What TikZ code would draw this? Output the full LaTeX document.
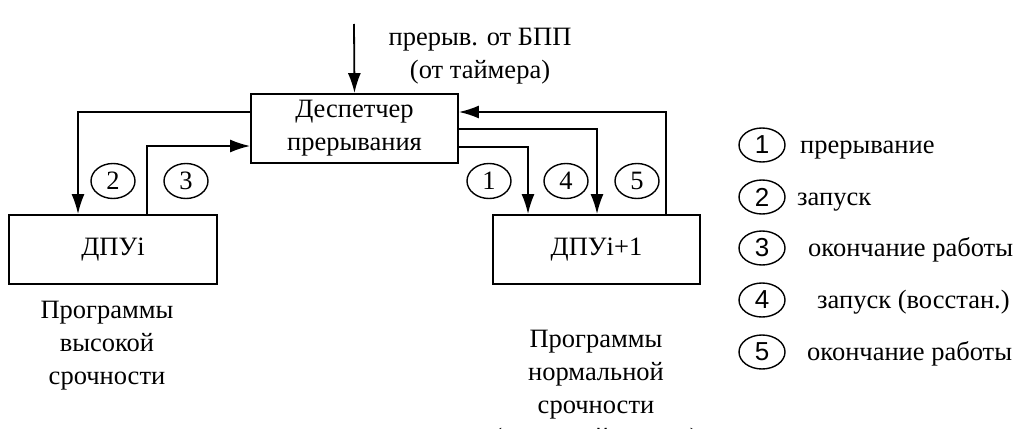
\documentclass[tikz,border=0pt]{standalone}
\usepackage{fontspec}
\setmainfont{Liberation Serif}
\newfontfamily\legsans{Liberation Sans}
\usetikzlibrary{arrows.meta,shapes.geometric}
\begin{document}
\begin{tikzpicture}[x=1pt,y=-1pt,
  every node/.style={font=\fontsize{26.5}{33}\selectfont, inner sep=0pt},
  blockbox/.style={draw, line width=1.8pt, minimum width=207pt, minimum height=69pt, align=center},
  numcirc/.style={draw, ellipse, line width=1.4pt, minimum width=44pt, minimum height=35pt},
  legcirc/.style={draw, ellipse, line width=1.4pt, minimum width=46pt, minimum height=34pt, font=\fontsize{26}{30}\legsans},
  arr/.style={line width=1.8pt, -{Latex[length=20pt,width=13pt]}},
  lbl/.style={align=center},
  legtxt/.style={anchor=base west}
]
\useasboundingbox (0,0) rectangle (1024,428);
% boxes
\node[blockbox] (d) at (354.5,128.5) {Деспетчер\\прерывания};
\node[blockbox, minimum width=208pt] (a) at (113,249.5) {ДПУi};
\node[blockbox] (b) at (596.5,249.5) {ДПУi+1};
% top input
\coordinate (tin) at (354,24);
\draw[arr] (tin) -- (d.north);
\node[lbl] (toptxt) at (480,56) {прерыв. от БПП\\(от таймера)};
% connectors
\draw[arr] ([yshift=16.5pt]d.west) -| ([xshift=-35pt]a.north);
\draw[arr] ([xshift=34pt]a.north) |- ([yshift=-17.5pt]d.west);
\draw[arr] ([yshift=-18.5pt]d.east) -| ([xshift=-68.5pt]b.north);
\draw[arr] ([yshift=-0.5pt]d.east) -| ([xshift=0.5pt]b.north);
\draw[arr] ([xshift=69.5pt]b.north) |- ([yshift=16.5pt]d.east);
% numbered circles
\node[numcirc] (c2) at (113,181) {2};
\node[numcirc] (c3) at (186,181) {3};
\node[numcirc] (c1) at (489,181) {1};
\node[numcirc] (c4) at (566,181) {4};
\node[numcirc] (c5) at (637,181) {5};
% captions
\node[lbl] (capl) at (107,346) {Программы\\высокой\\срочности};
\node[lbl] (capr) at (596,391) {Программы\\нормальной\\срочности\\(основной задачи)};
% legend
\node[legcirc] (l1) at (762,145) {1};
\node[legcirc] (l2) at (762,197) {2};
\node[legcirc] (l3) at (762,248) {3};
\node[legcirc] (l4) at (762,300) {4};
\node[legcirc] (l5) at (762,352) {5};
\node[legtxt] (t1) at (800,153) {прерывание};
\node[legtxt] (t2) at (797,205) {запуск};
\node[legtxt] (t3) at (808,256) {окончание работы};
\node[legtxt] (t4) at (817,308) {запуск (восстан.)};
\node[legtxt] (t5) at (807,360) {окончание работы};
\end{tikzpicture}
\end{document}
